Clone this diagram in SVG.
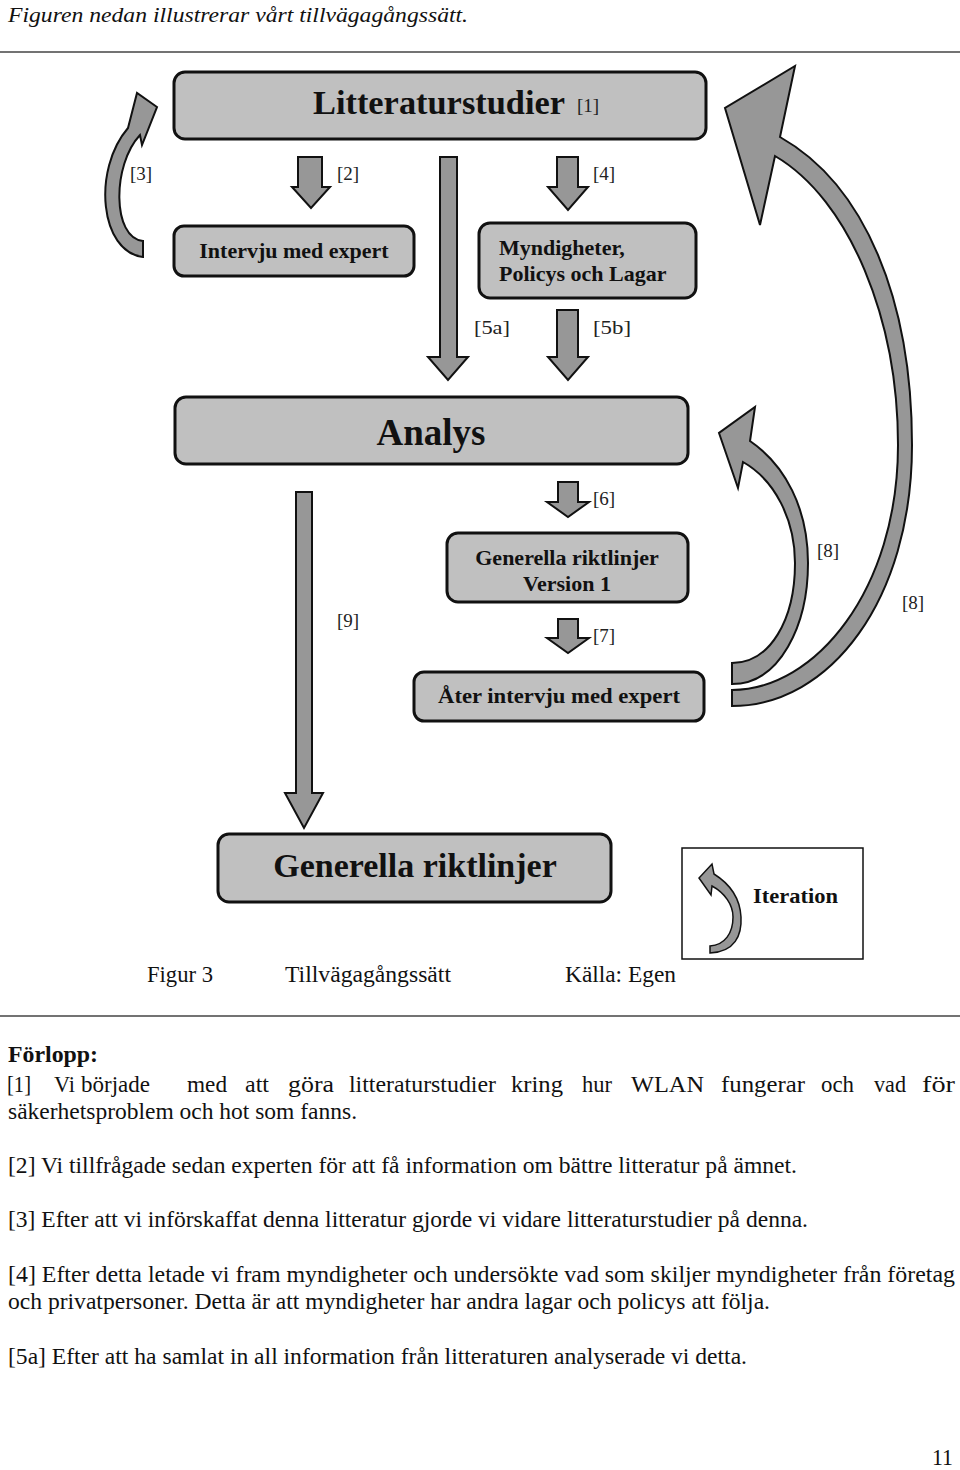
<svg xmlns="http://www.w3.org/2000/svg" width="960" height="1470" viewBox="0 0 960 1470">
<style>
.box{fill:#c0c0c0;stroke:#111;stroke-width:3}
.arr{fill:#979797;stroke:#111;stroke-width:2;stroke-linejoin:miter}
.bt{font-family:"Liberation Serif",serif;font-weight:bold;fill:#111}
.lb{font-family:"Liberation Serif",serif;font-size:19px;fill:#222}
.tx{font-family:"Liberation Serif",serif;font-size:23px;fill:#111}
</style>
<rect width="960" height="1470" fill="#fff"/>
<text x="8" y="22" font-family="Liberation Serif, serif" font-style="italic" font-size="22" fill="#111" textLength="460" lengthAdjust="spacingAndGlyphs">Figuren nedan illustrerar vårt tillvägagångssätt.</text>
<line x1="0" y1="52" x2="960" y2="52" stroke="#444" stroke-width="1.5"/>

<g id="connectors">
<polygon class="arr" points="298,157 322,157 322,187 330,187 311,208 292,187 298,187"/>
<polygon class="arr" points="557,157 578,157 578,187 588,187 568,210 548,187 557,187"/>
<polygon class="arr" points="440,157 457,157 457,357 468,357 448,380 428,357 440,357"/>
<polygon class="arr" points="557,310 578,310 578,357 588,357 568,380 548,357 557,357"/>
<polygon class="arr" points="558,482 578,482 578,502 589,502 568,517 547,502 558,502"/>
<polygon class="arr" points="558,619 578,619 578,638 589,638 568,653 547,638 558,638"/>
<polygon class="arr" points="296,492 312,492 312,793 323,793 304,828 285,793 296,793"/>
<path class="arr" d="M143,257 C100,252 92,170 128,128 L137,93 L157,107 L142,145 L140,135 C112,165 112,238 143,241 Z"/>
<path class="arr" d="M732,706 C830,706 912,600 912,445 C912,300 865,185 780,137 L795,66 L725,108 L760,225 L775,156 C850,200 898,320 898,445 C898,590 815,690 732,690 Z"/>
<path class="arr" d="M732,684 C780,684 808,625 808,563 C808,508 785,465 750,441 L755,407 L719,433 L738,488 L743,462 C775,480 795,520 795,563 C795,620 770,663 732,663 Z"/>
<text class="lb" x="130" y="180">[3]</text>
<text class="lb" x="337" y="180">[2]</text>
<text class="lb" x="593" y="180">[4]</text>
<text class="lb" x="474" y="334" font-size="22" textLength="36" lengthAdjust="spacingAndGlyphs">[5a]</text>
<text class="lb" x="593" y="334" font-size="22" textLength="38" lengthAdjust="spacingAndGlyphs">[5b]</text>
<text class="lb" x="593" y="505">[6]</text>
<text class="lb" x="337" y="627">[9]</text>
<text class="lb" x="593" y="642">[7]</text>
<text class="lb" x="817" y="557">[8]</text>
<text class="lb" x="902" y="609">[8]</text>
</g>

<g id="n-litteratur">
<rect class="box" x="174" y="72" width="532" height="67" rx="11"/>
<text class="bt" x="313" y="114" font-size="34" textLength="252" lengthAdjust="spacingAndGlyphs">Litteraturstudier</text>
<text class="lb" x="577" y="112">[1]</text>
</g>
<g id="n-intervju">
<rect class="box" x="174" y="226" width="240" height="50" rx="10"/>
<text class="bt" x="294" y="258" font-size="22" text-anchor="middle">Intervju med expert</text>
</g>
<g id="n-myndigheter">
<rect class="box" x="479" y="223" width="217" height="75" rx="11"/>
<text class="bt" x="499" y="255" font-size="22">Myndigheter,</text>
<text class="bt" x="499" y="281" font-size="22">Policys och Lagar</text>
</g>
<g id="n-analys">
<rect class="box" x="175" y="397" width="513" height="67" rx="11"/>
<text class="bt" x="431" y="445" font-size="37" text-anchor="middle">Analys</text>
</g>
<g id="n-version1">
<rect class="box" x="447" y="533" width="241" height="69" rx="11"/>
<text class="bt" x="567" y="565" font-size="22" text-anchor="middle">Generella riktlinjer</text>
<text class="bt" x="567" y="591" font-size="22" text-anchor="middle">Version 1</text>
</g>
<g id="n-ater">
<rect class="box" x="414" y="672" width="290" height="49" rx="10"/>
<text class="bt" x="559" y="703" font-size="22" text-anchor="middle" textLength="242" lengthAdjust="spacingAndGlyphs">Åter intervju med expert</text>
</g>
<g id="n-generella">
<rect class="box" x="218" y="834" width="393" height="68" rx="11"/>
<text class="bt" x="415" y="877" font-size="34" text-anchor="middle">Generella riktlinjer</text>
</g>
<g id="n-iteration">
<rect x="682" y="848" width="181" height="111" fill="#fff" stroke="#111" stroke-width="1.5"/>
<path fill="#979797" stroke="#111" stroke-width="1.5" d="M710,953 C735,952 742,935 741,917 C740,898 730,884 714,874 L712,864 L699,878 L711,895 L712,886 C725,893 733,905 733,917 C733,933 725,945 710,946 Z"/>
<text class="bt" x="753" y="903" font-size="22" textLength="85" lengthAdjust="spacingAndGlyphs">Iteration</text>
</g>

<g id="caption">
<text class="tx" x="147" y="982" textLength="66" lengthAdjust="spacingAndGlyphs">Figur 3</text>
<text class="tx" x="285" y="982" textLength="166" lengthAdjust="spacingAndGlyphs">Tillvägagångssätt</text>
<text class="tx" x="565" y="982" textLength="111" lengthAdjust="spacingAndGlyphs">Källa: Egen</text>
</g>
<line x1="0" y1="1016" x2="960" y2="1016" stroke="#444" stroke-width="1.5"/>

<g id="body">
<text class="tx" x="8" y="1062" font-weight="bold" textLength="90" lengthAdjust="spacingAndGlyphs">Förlopp:</text>
<text class="tx" y="1092"><tspan x="7" textLength="24" lengthAdjust="spacingAndGlyphs">[1]</tspan><tspan x="54" textLength="21" lengthAdjust="spacingAndGlyphs">Vi</tspan><tspan x="81" textLength="69" lengthAdjust="spacingAndGlyphs">började</tspan><tspan x="187" textLength="40" lengthAdjust="spacingAndGlyphs">med</tspan><tspan x="245" textLength="24" lengthAdjust="spacingAndGlyphs">att</tspan><tspan x="288" textLength="46" lengthAdjust="spacingAndGlyphs">göra</tspan><tspan x="349" textLength="147" lengthAdjust="spacingAndGlyphs">litteraturstudier</tspan><tspan x="511" textLength="52" lengthAdjust="spacingAndGlyphs">kring</tspan><tspan x="582" textLength="30" lengthAdjust="spacingAndGlyphs">hur</tspan><tspan x="631" textLength="73" lengthAdjust="spacingAndGlyphs">WLAN</tspan><tspan x="721" textLength="84" lengthAdjust="spacingAndGlyphs">fungerar</tspan><tspan x="821" textLength="33" lengthAdjust="spacingAndGlyphs">och</tspan><tspan x="874" textLength="32" lengthAdjust="spacingAndGlyphs">vad</tspan><tspan x="922" textLength="33" lengthAdjust="spacingAndGlyphs">för</tspan></text>
<text class="tx" x="8" y="1119" textLength="349" lengthAdjust="spacingAndGlyphs">säkerhetsproblem och hot som fanns.</text>
<text class="tx" x="8" y="1173" textLength="789" lengthAdjust="spacingAndGlyphs">[2] Vi tillfrågade sedan experten för att få information om bättre litteratur på ämnet.</text>
<text class="tx" x="8" y="1227" textLength="800" lengthAdjust="spacingAndGlyphs">[3] Efter att vi införskaffat denna litteratur gjorde vi vidare litteraturstudier på denna.</text>
<text class="tx" x="8" y="1282" textLength="947" lengthAdjust="spacingAndGlyphs">[4] Efter detta letade vi fram myndigheter och undersökte vad som skiljer myndigheter från företag</text>
<text class="tx" x="8" y="1309" textLength="762" lengthAdjust="spacingAndGlyphs">och privatpersoner. Detta är att myndigheter har andra lagar och policys att följa.</text>
<text class="tx" x="8" y="1364" textLength="739" lengthAdjust="spacingAndGlyphs">[5a] Efter att ha samlat in all information från litteraturen analyserade vi detta.</text>
<text class="tx" x="932" y="1465" textLength="21" lengthAdjust="spacingAndGlyphs">11</text>
</g>
</svg>
